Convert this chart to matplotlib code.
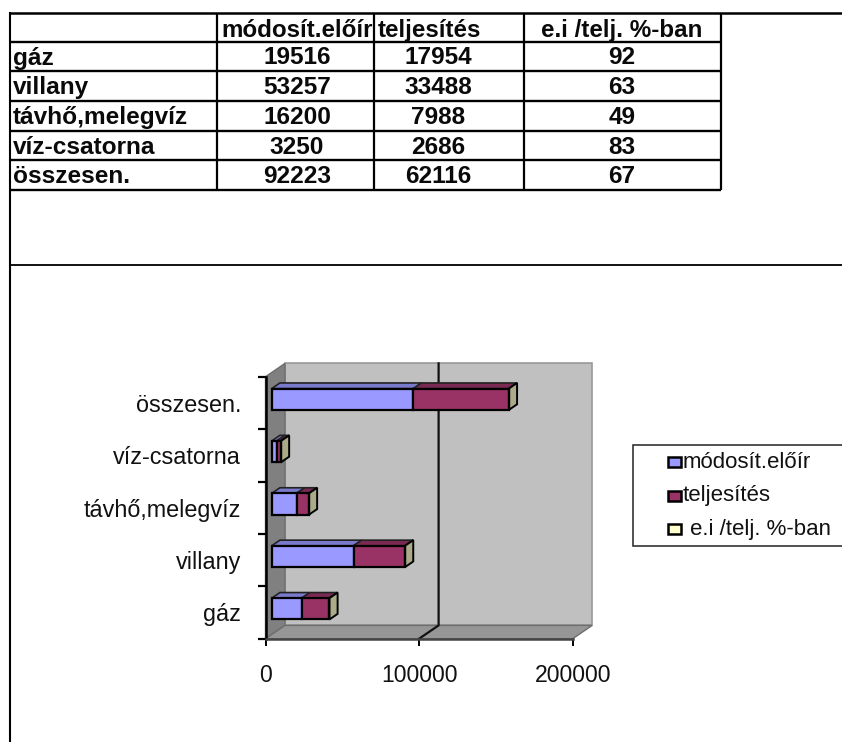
#!/usr/bin/env python

import matplotlib
matplotlib.use("Agg")
import matplotlib.pyplot as plt
from matplotlib.patches import Rectangle

plt.rcParams['font.family'] = ['Liberation Sans', 'DejaVu Sans']

#data
categories = ["gáz", "villany", "távhő,melegvíz", "víz-csatorna", "összesen."]
series_names = ["módosít.előír", "teljesítés", "e.i /telj. %-ban"]
modosit = [19516, 53257, 16200, 3250, 92223]
teljesites = [17954, 33488, 7988, 2686, 62116]
szazalek = [92, 63, 49, 83, 67]
x_ticks = [0, 100000, 200000]

#colours: front, top, side
colors = [("#9999FF", "#7A7ACC", "#7A7ACC"),
          ("#993366", "#7A2952", "#7A2952"),
          ("#FFFFCC", "#CCCCA3", "#ABAB8A")]

W, H = 842, 742
fig = plt.figure(figsize=(W/100, H/100), dpi=100)

#page layer in pixel coordinates
bg = fig.add_axes([0, 0, 1, 1], zorder=3)
bg.set_xlim(0, W)
bg.set_ylim(H, 0)
bg.axis("off")
bg.patch.set_alpha(0)

#table
col_x = [9.5, 217, 374, 523.5, 720.5]
row_y = [13, 42, 71, 101, 131, 160, 190]
table_fs = 17.6
for x in col_x[1:]:
    bg.plot([x, x], [row_y[0], row_y[-1]], color="k", lw=1.6, solid_capstyle="butt")
for y in row_y[1:]:
    bg.plot([col_x[0], col_x[-1]], [y, y], color="k", lw=1.7, solid_capstyle="butt")
bg.plot([col_x[0], W], [row_y[0], row_y[0]], color="k", lw=1.8)
bg.plot([col_x[0], W], [265, 265], color="#111111", lw=1.4)
bg.plot([col_x[0], col_x[0]], [row_y[0], H], color="k", lw=1.5)

def cell(x, y, s, ha="center", size=table_fs):
    bg.text(x, y, s, fontsize=size, ha=ha, va="center_baseline", color="#0A0A0A", weight="bold")

header_x = [297, 378, 622]
header_ha = ["center", "left", "center"]
for x, s, ha in zip(header_x, series_names, header_ha):
    cell(x, (row_y[0]+row_y[1])/2+0.5, s, ha, 17.4)
for i in range(len(categories)):
    yc = (row_y[i+1]+row_y[i+2])/2-1
    cell(col_x[0]+3, yc, categories[i], "left")
    cell(297, yc, str(modosit[i]))
    cell(438, yc, str(teljesites[i]))
    cell(622, yc, str(szazalek[i]))

#legend
bg.add_patch(Rectangle((633, 445), 230, 100.5, fc="white", ec="#222222", lw=1.1, clip_on=True))
legend_y = [462, 495.5, 529]
legend_x = [683, 683, 690]
for (col, y, x, name) in zip(colors, legend_y, legend_x, series_names):
    bg.add_patch(Rectangle((667.5, y-5), 13, 10, fc=col[0], ec="k", lw=1.8))
    bg.text(x, y, name, fontsize=16, ha="left", va="center", color="#111111")

#chart
ax = fig.add_axes([265.5/W, 1-638.7/H, 307.2/W, 262/H], zorder=2)
ax.set_xlim(0, 200000)
ax.set_ylim(0, 5)
ax.patch.set_alpha(0)
for s in ax.spines.values():
    s.set_visible(False)

wall_dx, wall_dy = 12700, 0.254
edge = "#6E6E6E"
ax.fill([wall_dx, 200000+wall_dx, 200000+wall_dx, wall_dx],
        [wall_dy, wall_dy, 5+wall_dy, 5+wall_dy],
        fc="#C0C0C0", ec="#999999", lw=1.2, clip_on=False, zorder=1)
ax.fill([0, wall_dx, wall_dx, 0], [0, wall_dy, 5+wall_dy, 5],
        fc="#808080", ec=edge, lw=1, clip_on=False, zorder=1.1)
ax.fill([0, 200000, 200000+wall_dx, wall_dx], [0, 0, wall_dy, wall_dy],
        fc="#969696", ec=edge, lw=1, clip_on=False, zorder=1.1)

#gridline over back wall and floor
ax.plot([100000, 100000+wall_dx, 100000+wall_dx], [0, wall_dy, 5+wall_dy],
        color="#111111", lw=1.6, clip_on=False, zorder=1.5)

#left and bottom axis
ax.plot([0, 0], [0, 5], color="k", lw=1.8, clip_on=False, zorder=5)
ax.plot([0, 200000], [0, 0], color="#444444", lw=1.8, clip_on=False, zorder=5)

#stacked bars with 3d faces
bar_off, bar_h = 4040, 0.407
bar_dx, bar_dy = 5340, 0.107
y_pos = [i+0.5+0.07 for i in range(len(categories))]
left = [bar_off]*len(categories)
for values, col in zip([modosit, teljesites, szazalek], colors):
    ax.barh(y_pos, values, left=left, height=bar_h, color=col[0], edgecolor="k",
            linewidth=1.6, zorder=4, clip_on=False)
    for l, v, y in zip(left, values, y_pos):
        top = y+bar_h/2
        ax.fill([l, l+bar_dx, l+v+bar_dx, l+v], [top, top+bar_dy, top+bar_dy, top],
                fc=col[1], ec="#222222", lw=1.2, zorder=3.5, clip_on=False)
    left = [l+v for l, v in zip(left, values)]
for l, y in zip(left, y_pos):
    top, bot = y+bar_h/2, y-bar_h/2
    ax.fill([l, l+bar_dx, l+bar_dx, l], [bot, bot+bar_dy, top+bar_dy, top],
            fc=colors[2][2], ec="k", lw=1.4, zorder=3.8, clip_on=False)

#ticks
ax.set_xticks(x_ticks)
ax.set_xticklabels([str(v) for v in x_ticks], fontsize=16.6, color="#111111")
ax.tick_params(axis="x", length=5, width=1.4, pad=13)
ax.set_yticks(range(6))
ax.set_yticklabels([])
ax.set_yticks([i+0.5 for i in range(5)], categories, minor=True, fontsize=16.8, color="#111111")
ax.tick_params(axis="y", which="major", length=5.5, width=1.6)
ax.tick_params(axis="y", which="minor", length=0, pad=17.6)

fig.savefig("out.png", dpi=100, facecolor="white")
